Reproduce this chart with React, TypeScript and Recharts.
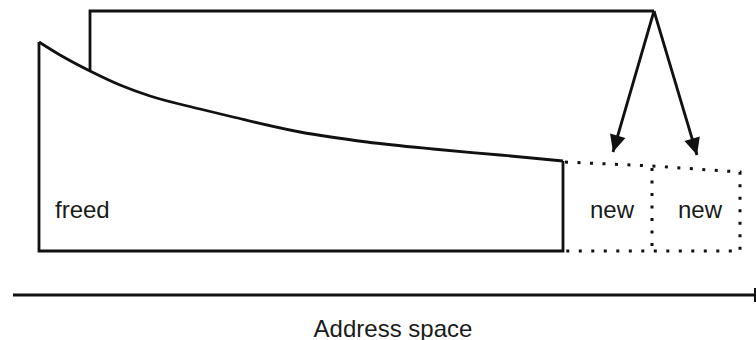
import React from "react";
import { ComposedChart, Line, Scatter, XAxis, YAxis } from "recharts";

// Diagram coordinates (x: address position, y: height downwards)
const freedOutline = [
  { x: 39, y: 42 },
  { x: 39, y: 251 },
  { x: 563, y: 251 },
  { x: 563, y: 161 },
];

const decayCurve = [
  { x: 39, y: 42 },
  { x: 60, y: 55 },
  { x: 90, y: 71 },
  { x: 120, y: 85 },
  { x: 150, y: 96 },
  { x: 200, y: 109 },
  { x: 233, y: 117 },
  { x: 300, y: 132 },
  { x: 367, y: 142 },
  { x: 433, y: 149 },
  { x: 500, y: 155 },
  { x: 563, y: 161 },
];

const bracket = [
  { x: 90, y: 71 },
  { x: 90, y: 11 },
  { x: 654, y: 11 },
];

const arrowLeft = [
  { x: 654, y: 11 },
  { x: 613, y: 152 },
];

const arrowRight = [
  { x: 654, y: 11 },
  { x: 697, y: 155 },
];

const newBlocksOutline = [
  { x: 565, y: 162 },
  { x: 652, y: 166 },
  { x: 740, y: 172 },
  { x: 740, y: 251 },
  { x: 565, y: 251 },
];

const newDivider = [
  { x: 652, y: 168 },
  { x: 652, y: 251 },
];

const addressAxis = [
  { x: 13, y: 295 },
  { x: 755, y: 295 },
];

const axisEndTick = [
  { x: 755, y: 288 },
  { x: 755, y: 302 },
];

const labels = [
  { x: 55, y: 209, text: "freed", anchor: "start", size: 24 },
  { x: 612, y: 209, text: "new", anchor: "middle", size: 24 },
  { x: 700, y: 209, text: "new", anchor: "middle", size: 24 },
  { x: 393, y: 328, text: "Address space", anchor: "middle", size: 24 },
];

const STROKE = "#111";

const makeArrowDot = (pts: { x: number; y: number }[]) => (props: any) => {
  const { cx, cy, index } = props;
  if (index !== pts.length - 1 || cx == null) return <g key={`d${index}`} />;
  const a = pts[pts.length - 2];
  const b = pts[pts.length - 1];
  const dx = b.x - a.x;
  const dy = b.y - a.y;
  const len = Math.sqrt(dx * dx + dy * dy);
  const ux = dx / len;
  const uy = dy / len;
  const L = 17;
  const W = 8;
  const bx = cx - ux * L;
  const by = cy - uy * L;
  const p1 = `${cx},${cy}`;
  const p2 = `${bx - uy * W},${by + ux * W}`;
  const p3 = `${bx + uy * W},${by - ux * W}`;
  return <polygon key={`d${index}`} points={`${p1} ${p2} ${p3}`} fill={STROKE} stroke="none" />;
};

const renderLabel = (props: any) => {
  const { cx, cy, payload } = props;
  return (
    <text
      x={cx}
      y={cy}
      textAnchor={payload.anchor}
      dominantBaseline="central"
      fontFamily="Liberation Sans, Arial, sans-serif"
      fontSize={payload.size}
      fill="#1a1a1a"
    >
      {payload.text}
    </text>
  );
};

export default function App() {
  return (
    <div style={{ position: "absolute", left: 0, top: 0, background: "#fff" }}>
      <ComposedChart width={756} height={340} margin={{ top: 0, right: 0, bottom: 0, left: 0 }}>
        <XAxis type="number" dataKey="x" domain={[0, 756]} hide allowDataOverflow />
        <YAxis type="number" dataKey="y" domain={[0, 340]} reversed hide allowDataOverflow />
        <Line data={freedOutline} dataKey="y" type="linear" stroke={STROKE} strokeWidth={2.8} dot={false} activeDot={false} isAnimationActive={false} strokeLinejoin="miter" />
        <Line data={decayCurve} dataKey="y" type="monotone" stroke={STROKE} strokeWidth={2.8} dot={false} activeDot={false} isAnimationActive={false} />
        <Line data={bracket} dataKey="y" type="linear" stroke={STROKE} strokeWidth={2.8} dot={false} activeDot={false} isAnimationActive={false} strokeLinejoin="miter" />
        <Line data={arrowLeft} dataKey="y" type="linear" stroke={STROKE} strokeWidth={2.8} dot={makeArrowDot(arrowLeft)} activeDot={false} isAnimationActive={false} />
        <Line data={arrowRight} dataKey="y" type="linear" stroke={STROKE} strokeWidth={2.8} dot={makeArrowDot(arrowRight)} activeDot={false} isAnimationActive={false} />
        <Line data={newBlocksOutline} dataKey="y" type="linear" stroke={STROKE} strokeWidth={3} strokeDasharray="3 9.5" dot={false} activeDot={false} isAnimationActive={false} />
        <Line data={newDivider} dataKey="y" type="linear" stroke={STROKE} strokeWidth={3} strokeDasharray="3 9.5" dot={false} activeDot={false} isAnimationActive={false} />
        <Line data={addressAxis} dataKey="y" type="linear" stroke={STROKE} strokeWidth={3} dot={false} activeDot={false} isAnimationActive={false} />
        <Line data={axisEndTick} dataKey="y" type="linear" stroke={STROKE} strokeWidth={2} dot={false} activeDot={false} isAnimationActive={false} />
        <Scatter data={labels} dataKey="y" shape={renderLabel} isAnimationActive={false} />
      </ComposedChart>
    </div>
  );
}
